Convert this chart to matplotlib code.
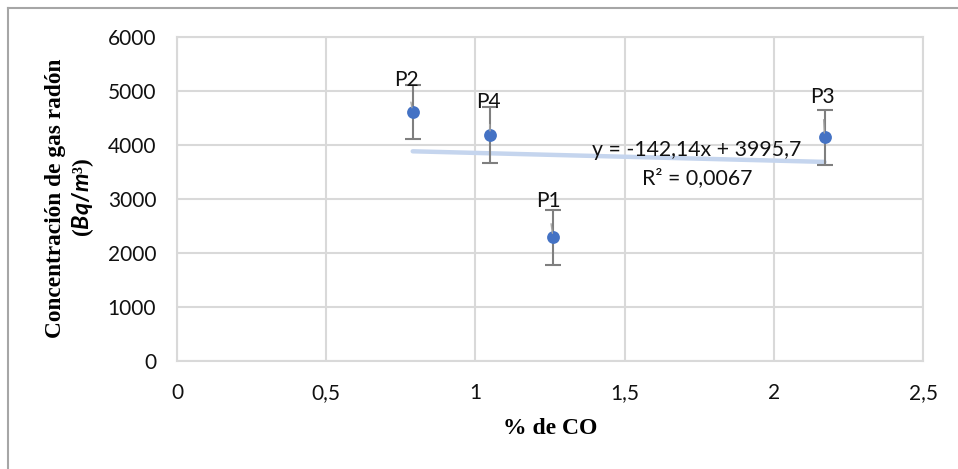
import matplotlib

matplotlib.use("Agg")

import matplotlib.pyplot as plt
from matplotlib.lines import Line2D
from matplotlib.ticker import FuncFormatter, MultipleLocator
import numpy as np

# % de CO, concentración de radón (Bq/m3) y barras de error
labels = ["P1", "P2", "P3", "P4"]
co_pct = [1.26, 0.79, 2.17, 1.05]
radon = [2290, 4615, 4145, 4185]
radon_err = [515, 500, 510, 515]
# desplazamiento de cada etiqueta (px) respecto al punto
label_offsets = [(-5, 36), (-6, 32), (-2, 40), (-2, 33)]

slope, intercept = -142.14, 3995.7
r2 = 0.0067

plt.rcParams.update(
    {
        "font.family": "Lato",
        "font.size": 15,
        "text.color": "#111111",
        "mathtext.fontset": "custom",
        "mathtext.it": "Lato:italic:bold",
        "mathtext.rm": "Lato:bold",
    }
)


def decimal_comma(value, _pos):
    return f"{value:g}".replace(".", ",")


fig = plt.figure(figsize=(9.58, 4.69), dpi=100)
ax = fig.add_axes([177 / 958, 1 - 361 / 469, 746 / 958, 324 / 469])

grid_col = "#D9D9D9"
ax.set_xlim(0, 2.5)
ax.set_ylim(0, 6000)
ax.xaxis.set_major_locator(MultipleLocator(0.5))
ax.yaxis.set_major_locator(MultipleLocator(1000))
ax.xaxis.set_major_formatter(FuncFormatter(decimal_comma))
ax.grid(True, color=grid_col, linewidth=1.5, zorder=0)
for spine in ax.spines.values():
    spine.set_color(grid_col)
    spine.set_linewidth(1.5)
ax.tick_params(axis="both", length=0, labelsize=15, labelcolor="#111111")
ax.tick_params(axis="x", pad=16)
ax.tick_params(axis="y", pad=15)

# línea de tendencia lineal
x_fit = np.array([min(co_pct), max(co_pct)])
ax.plot(x_fit, slope * x_fit + intercept, color="#C5D5EE", linewidth=3.2,
        solid_capstyle="round", zorder=2)

ax.errorbar(co_pct, radon, yerr=radon_err, fmt="none", ecolor="#7F7F7F",
            elinewidth=1.5, capsize=6, capthick=1.5, zorder=3)
ax.scatter(co_pct, radon, s=85, color="#4472C4", zorder=4, linewidths=0)

for lab, x, y, off in zip(labels, co_pct, radon, label_offsets):
    ax.annotate(lab, xy=(x, y), xytext=off, textcoords="offset pixels",
                ha="center", va="center", fontsize=15,
                arrowprops=dict(arrowstyle="-", color="#A6A6A6", lw=1.0,
                                shrinkA=7, shrinkB=3),
                zorder=5)

eq = f"y = {slope:.2f}x + {intercept:.1f}".replace(".", ",")
ax.text(1.743, 3907, eq, ha="center", va="center", fontsize=15.3, zorder=6)
ax.text(1.743, 3389, f"R² = {r2:.4f}".replace(".", ","), ha="center",
        va="center", fontsize=15.3, zorder=6)

fig.text(550 / 958, 1 - 428 / 469, "% de CO", ha="center", va="center",
         family="Liberation Serif", fontweight="bold", fontsize=17, color="black")
fig.text(55 / 958, 1 - 198 / 469, "Concentración de gas radón", rotation=90,
         ha="center", va="center", family="Liberation Serif",
         fontweight="bold", fontsize=16.8, color="black")
fig.text(83 / 958, 1 - 197 / 469, r"($Bq/m$³)", rotation=90, ha="center",
         va="center", family="Liberation Serif", fontweight="bold",
         fontsize=16.8, color="black")

# marco exterior (solo visible a la izquierda y arriba)
border = "#A6A6A6"
fig.add_artist(Line2D([7.5 / 958, 7.5 / 958], [0, 1 - 8.5 / 469],
                      transform=fig.transFigure, color=border, lw=1.5))
fig.add_artist(Line2D([7.5 / 958, 1], [1 - 8.5 / 469, 1 - 8.5 / 469],
                      transform=fig.transFigure, color=border, lw=1.5))

fig.savefig("out.png", dpi=100, facecolor="white")
